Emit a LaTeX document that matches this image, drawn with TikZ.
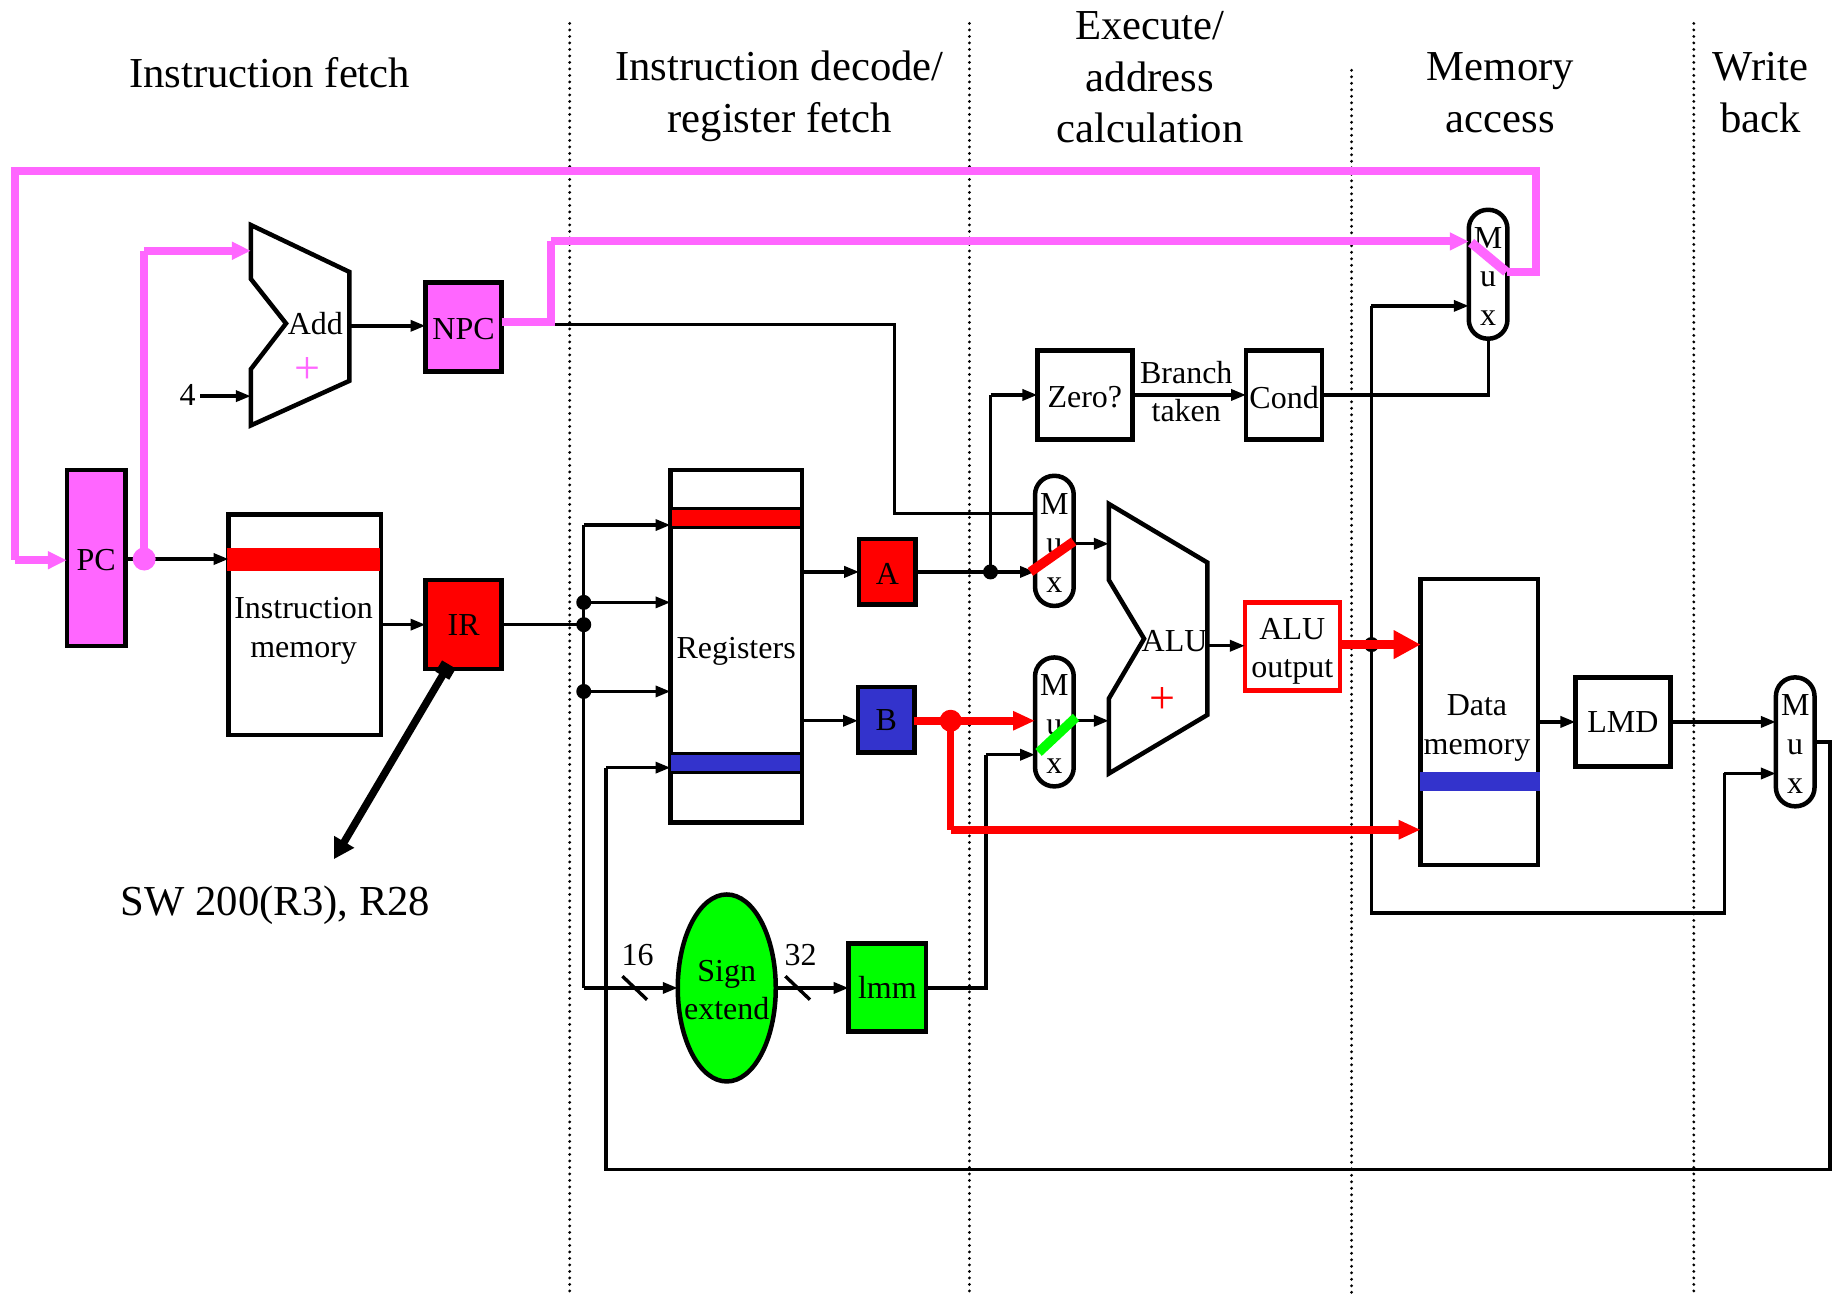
\documentclass[tikz,border=0pt]{standalone}
\usepackage{fontspec}
\setmainfont{Liberation Serif}
\usetikzlibrary{arrows.meta,fit,shapes.geometric}
\definecolor{mag}{HTML}{FF66FF}
\definecolor{blu}{HTML}{3333CC}
\definecolor{grn}{HTML}{00FF00}
\definecolor{rd}{HTML}{FF0000}
\tikzset{
  lab/.style={inner sep=0pt,font=\fontsize{32}{38.7}\selectfont,align=center},
  blab/.style={lab,yshift=-2.2pt},
  head/.style={inner sep=0pt,font=\fontsize{42.7}{51.5}\selectfont,align=center},
  plus/.style={inner sep=0pt,font=\fontsize{46}{46}\selectfont},
  bx/.style={draw=black,line width=4.5pt,inner sep=0pt,outer sep=0pt},
  mux/.style={bx,rounded corners=19pt,fill=white},
  bar/.style={inner sep=0pt,outer sep=0pt,draw=none},
  wire/.style={line width=3.4pt,draw=black,line join=miter},
  arr/.style={wire,-{Triangle[length=15pt,width=11pt]}},
  mwire/.style={line width=8pt,draw=mag,line join=miter},
  marr/.style={mwire,-{Triangle[length=19pt,width=17pt]}},
  rwire/.style={line width=7.5pt,draw=rd,line join=miter},
  rarr/.style={rwire,-{Triangle[length=22pt,width=18pt]}},
  dot/.style={circle,fill=black,inner sep=0pt,minimum size=15pt},
  sep/.style={line width=3.2pt,line cap=round,dash pattern=on 0pt off 6.5pt},
  diag/.style={line width=9.5pt}
}
\begin{document}
\begin{tikzpicture}[x=1.17219pt,y=-1.17195pt]
\useasboundingbox (0,0) rectangle (1568,1105);
% stage separators
\draw[sep] (486,20) -- (486,1105);
\draw[sep] (827,20) -- (827,1105);
\draw[sep] (1153,60) -- (1153,1105);
\draw[sep] (1445,20) -- (1445,1105);
% headers
\node[head] (h1) at (230,62) {Instruction fetch};
\node[head] (h2) at (665,82) {Instruction decode/\\register fetch};
\node[head] (h3) at (981,66) {Execute/\\address\\calculation};
\node[head] (h4) at (1280,79) {Memory\\access};
\node[head] (h5) at (1502,79) {Write\\back};
% blocks
\node[bx,fill=mag,fit={(57,401)(107,551)},label={[blab]center:PC}] (pc) {};
\node[bx,fill=mag,fit={(363,241)(428,317)},label={[blab]center:NPC}] (npc) {};
\node[bx,fill=rd,fit={(363,495)(428,571)},label={[lab]center:IR}] (ir) {};
\node[bx,fit={(195,439)(325,627)}] (imem) {};
\node[bar,fill=rd,fit={(194,468)(324,487)}] (imbar) {};
\node[lab] (imtxt) at (259,538) {Instruction\\memory};
\node[bx,fit={(572,401)(684,702)}] (regs) {};
\node[bx,line width=3pt,fill=rd,fit={(572,434)(684,450)}] (regr) {};
\node[bx,line width=3pt,fill=blu,fit={(571,643)(684,659)}] (regb) {};
\node[lab] (regtxt) at (628,556) {Registers};
\node[bx,fill=rd,fit={(733,460)(781,516)},label={[blab]center:A}] (a) {};
\node[bx,fill=blu,fit={(732,586)(780,642)},label={[lab]center:B}] (b) {};
\node[bx,fit={(885,299)(966,375)},label={[blab]center:Zero?}] (zero) {};
\node[bx,fit={(1063,299)(1128,375)},label={[blab]center:Cond}] (cond) {};
\node[bx,draw=rd,fit={(1062,514)(1143,589)},label={[lab,yshift=-5pt]center:ALU\\output}] (aluo) {};
\node[bx,fit={(1212,494)(1312,738)}] (dmem) {};
\node[bar,fill=blu,fit={(1211,659)(1314,675)}] (dmbar) {};
\node[lab] (dmtxt) at (1260,621) {Data\\memory};
\node[bx,fit={(1344,578)(1425,654)},label={[lab]center:LMD}] (lmd) {};
\node[bx,ellipse,fill=grn,minimum width=98pt,minimum height=187pt,label={[blab]center:Sign\\extend}] (sign) at (620,843) {};
\node[bx,fill=grn,fit={(724,805)(790,880)},label={[lab]center:lmm}] (imm) {};
% Add and ALU
\draw[line width=4.5pt,line join=miter] (214,192) -- (298,232) -- (298,325) -- (214,363) -- (214,315) -- (244,276) -- (214,238) -- cycle;
\coordinate (addT) at (214,214);
\coordinate (addB) at (214,338);
\coordinate (addO) at (298,278);
\node[lab] (addtxt) at (269,276) {Add};
\node[plus,text=mag] (addplus) at (262,316) {+};
\node[lab] (four) at (160,337) {4};
\draw[line width=4.5pt,line join=miter] (946,430) -- (1030,480) -- (1030,610) -- (946,660) -- (946,596) -- (976,545) -- (946,495) -- cycle;
\coordinate (aluT) at (946,464);
\coordinate (aluB) at (946,615);
\coordinate (aluO) at (1030,551);
\node[lab] (alutxt) at (1002,547) {ALU};
\node[plus,text=rd] (aluplus) at (992,598) {+};
% wire way points
\coordinate (jpc) at (123,477);
\coordinate (pctop) at (123,214);
\coordinate (ma) at (13,146);
\coordinate (mb) at (13,478);
\coordinate (mc) at (1310,146);
\coordinate (md) at (1310,232);
\coordinate (ne) at (470,275);
\coordinate (nf) at (470,206);
\coordinate (ng) at (470,277);
\coordinate (nh) at (763,277);
\coordinate (ni) at (763,438);
\coordinate (ja) at (845,488);
\coordinate (jz) at (845,337);
\coordinate (jb) at (811,615);
\coordinate (jc) at (811,708);
\coordinate (jd) at (1170,550);
\coordinate (je) at (1170,261);
\coordinate (jf) at (1170,779);
\coordinate (jg) at (1471,779);
\coordinate (jh) at (1471,660);
\coordinate (ri) at (498,533);
\coordinate (r1) at (498,448);
\coordinate (r2) at (498,514);
\coordinate (r3) at (498,590);
\coordinate (r4) at (498,843);
\coordinate (ia) at (841,843);
\coordinate (ib) at (841,644);
\coordinate (wa) at (1561,633);
\coordinate (wb) at (1561,998);
\coordinate (wc) at (517,998);
\coordinate (wd) at (517,655);
\coordinate (co) at (1270,337);
% muxes
\node[mux,fit={(883,406)(916,517)},label={[blab]center:M\\u\\x}] (m1) {};
\node[mux,fit={(883,561)(916,671)},label={[blab]center:M\\u\\x}] (m2) {};
\node[mux,fit={(1253,179)(1286,289)},label={[blab]center:M\\u\\x}] (m3) {};
\node[mux,fit={(1515,578)(1548,688)},label={[blab]center:M\\u\\x}] (m4) {};
% black wires
\draw[arr] (pc.east |- jpc) -- (imem.west |- jpc);
\draw[arr] (four.east) ++(4,1) -- (addB);
\draw[arr] (addO) -- (npc.west |- addO);
\draw[arr] (imem.east |- ri) -- (ir.west |- ri);
\draw[wire] (ir.east |- ri) -- (ri);
\draw[wire] (r1) -- (r4);
\draw[arr] (r1) -- (regs.west |- r1);
\draw[arr] (r2) -- (regs.west |- r2);
\draw[arr] (r3) -- (regs.west |- r3);
\draw[arr] (r4) -- (sign.west |- r4);
\draw[arr] (sign.east |- r4) -- (imm.west |- r4);
\draw[wire] (imm.east |- r4) -- (ia) -- (ib);
\draw[arr] (ib) -- (m2.west |- ib);
\draw[wire] (ng) -- (nh) -- (ni) -- (m1.west |- ni);
\draw[arr] (regs.east |- ja) -- (a.west |- ja);
\draw[arr] (regs.east |- jb) -- (b.west |- jb);
\draw[arr] (a.east |- ja) -- (m1.west |- ja);
\draw[wire] (ja) -- (jz);
\draw[arr] (jz) -- (zero.west |- jz);
\draw[arr] (zero.east |- jz) -- (cond.west |- jz);
\draw[wire] (cond.east |- jz) -- (co) -- (m3.south -| co);
\draw[arr] (m1.east |- aluT) -- (aluT);
\draw[arr] (m2.east |- aluB) -- (aluB);
\draw[arr] (aluO) -- (aluo.west |- aluO);
\draw[arr] (je) -- (m3.west |- je);
\draw[wire] (je) -- (jf) -- (jg) -- (jh);
\draw[arr] (jh) -- (m4.west |- jh);
\draw[arr] (dmem.east |- lmd.west) -- (lmd.west);
\draw[arr] (lmd.east) -- (m4.west |- lmd.east);
\draw[wire] (m4.east |- wa) -- (wa) -- (wb) -- (wc) -- (wd);
\draw[arr] (wd) -- (regs.west |- wd);
\node[dot] (d1) at (r2) {};
\node[dot] (d2) at (ri) {};
\node[dot] (d3) at (r3) {};
\node[dot] (d4) at (ja) {};
\node[dot] (d5) at (jd) {};
% bus slashes
\coordinate (s1a) at (531,833);
\coordinate (s1b) at (552,853);
\coordinate (s2a) at (670,833);
\coordinate (s2b) at (691,853);
\draw[wire] (s1a) -- (s1b);
\draw[wire] (s2a) -- (s2b);
\node[lab] (n16) at (544,815) {16};
\node[lab] (n32) at (683,815) {32};
\node[lab] (bt) at (1012,318) {Branch};
\node[lab] (tk) at (1012,350) {taken};
% coloured wires
\draw[mwire] (m3.east |- md) -- (md) -- (mc) -- (ma) -- (mb);
\draw[marr] (mb) -- (pc.west |- mb);
\draw[mwire] (jpc) -- (pctop);
\draw[marr] (pctop) -- (addT);
\node[circle,fill=mag,inner sep=0pt,minimum size=23pt] (jm) at (jpc) {};
\draw[mwire] (npc.east |- ne) -- (ne) -- (nf);
\draw[marr] (nf) -- (m3.west |- nf);
\draw[rarr] (b.east |- jb) -- (m2.west |- jb);
\node[circle,fill=rd,inner sep=0pt,minimum size=22pt] (jr) at (jb) {};
\draw[rwire] (jb) -- (jc);
\draw[rarr] (jc) -- (dmem.west |- jc);
\draw[line width=8.5pt,draw=rd,-{Triangle[length=27pt,width=27pt]}] (aluo.east |- jd) -- (dmem.west |- jd);
% mux selectors
\coordinate (q1a) at (879,488);
\coordinate (q1b) at (916,462);
\coordinate (q2a) at (886,642);
\coordinate (q2b) at (918,612);
\coordinate (q3a) at (1255,207);
\coordinate (q3b) at (1285,232);
\draw[diag,draw=rd] (q1a) -- (q1b);
\draw[diag,draw=grn] (q2a) -- (q2b);
\draw[diag,draw=mag] (q3a) -- (q3b);
% instruction callout
\coordinate (ip) at (383,567);
\coordinate (ie) at (285,733);
\draw[line width=7.5pt,{Square[length=13pt,width=16pt]}-{Triangle[length=20pt,width=22pt]}] (ip) -- (ie);
\node[head] (sw) at (235,772) {SW 200(R3), R28};
\end{tikzpicture}
\end{document}
